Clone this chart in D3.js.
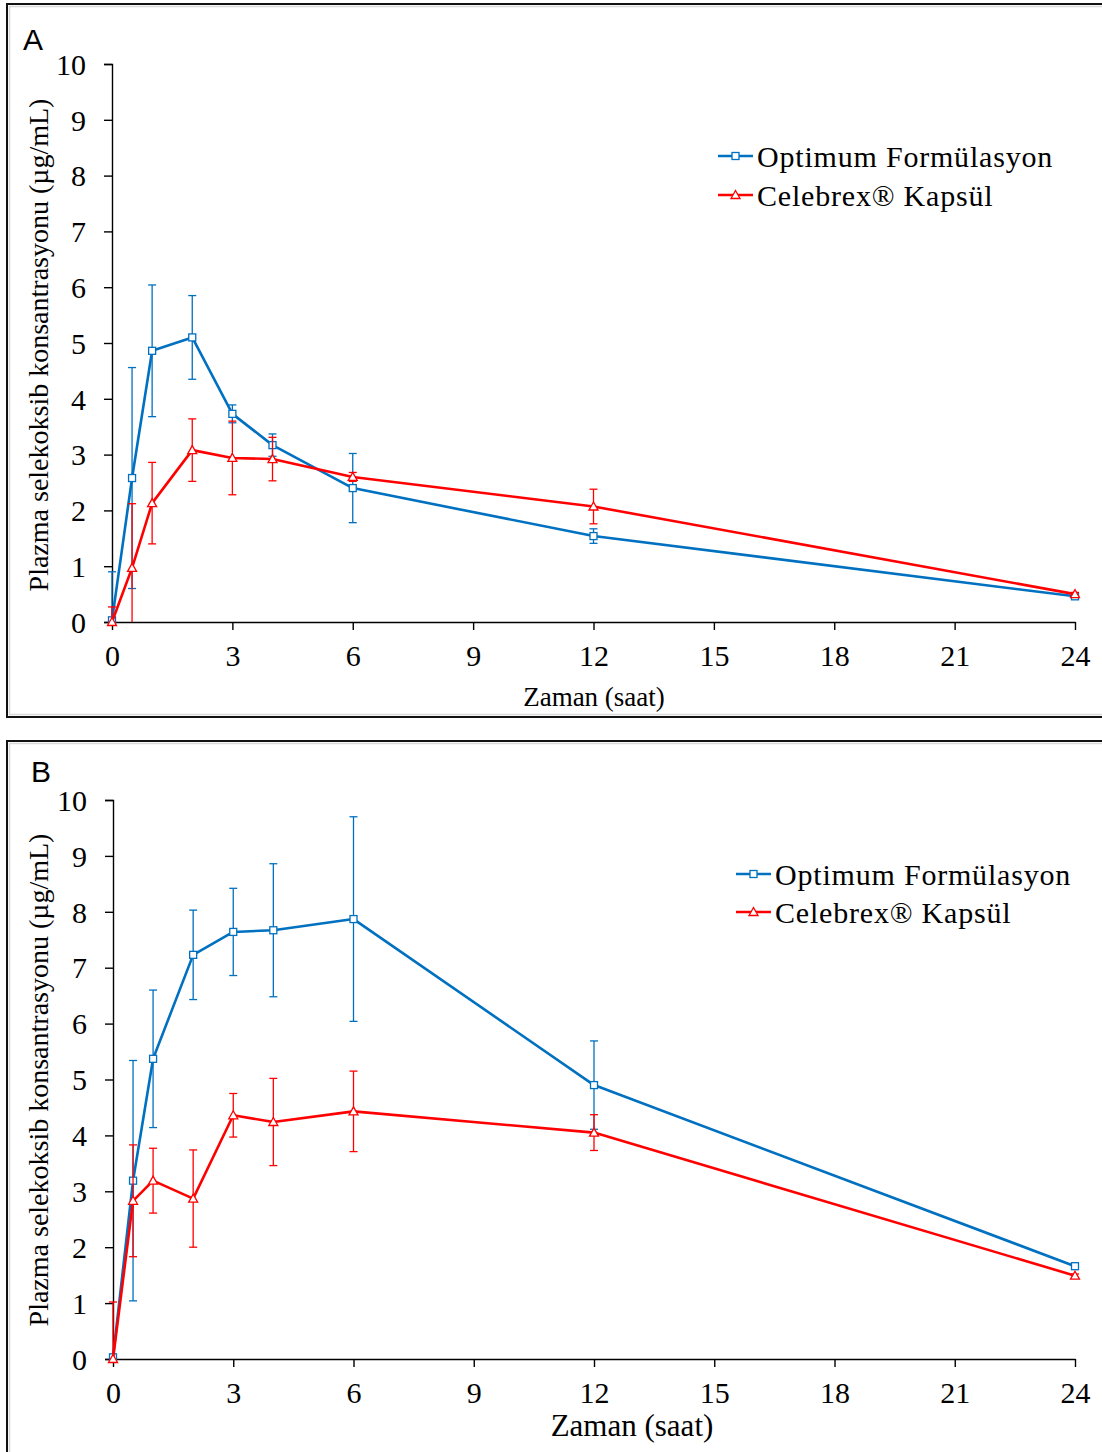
<!DOCTYPE html>
<html>
<head>
<meta charset="utf-8">
<script src="https://cdn.jsdelivr.net/npm/d3@7"></script>
<style>
  html, body { margin: 0; padding: 0; background: #fff; }
  svg { display: block; }
</style>
</head>
<body>
<svg id="chart" width="1102" height="1452"></svg>
<script>
// Sampling times (saat)
const times = [0, 0.5, 1, 2, 3, 4, 6, 12, 24];

// Panel A — mean and SD (µg/mL)
const optimumA = [0.03, 2.58, 4.86, 5.10, 3.73, 3.17, 2.40, 1.54, 0.46];
const optimumA_sd = [0.87, 1.98, 1.18, 0.75, 0.16, 0.20, 0.62, 0.13, 0.03];
const celebrexA = [0.00, 0.97, 2.13, 3.08, 2.94, 2.92, 2.60, 2.07, 0.50];
const celebrexA_sd = [0.27, 1.15, 0.73, 0.56, 0.66, 0.39, 0.08, 0.31, 0.03];

// Panel B — mean and SD (µg/mL)
const optimumB = [0.03, 3.19, 5.37, 7.23, 7.64, 7.67, 7.87, 4.90, 1.66];
const optimumB_sd = [0.05, 2.15, 1.23, 0.80, 0.78, 1.19, 1.83, 0.79, 0.05];
const celebrexB = [0.00, 2.83, 3.19, 2.87, 4.36, 4.24, 4.43, 4.05, 1.49];
const celebrexB_sd = [1.02, 1.00, 0.58, 0.87, 0.39, 0.78, 0.72, 0.32, 0.03];

// Axis ticks and labels
const xTicks = [0, 3, 6, 9, 12, 15, 18, 21, 24];
const yTicks = [0, 1, 2, 3, 4, 5, 6, 7, 8, 9, 10];
const seriesNames = ["Optimum Formülasyon", "Celebrex® Kapsül"];
const yTitle = "Plazma selekoksib konsantrasyonu (µg/mL)";
const xTitle = "Zaman (saat)";
const panelLabels = ["A", "B"];

const BLUE = "#0070C0";
const RED = "#FF0000";
const SERIF = "'Liberation Serif', 'Times New Roman', serif";
const SANS = "'Liberation Sans', Arial, sans-serif";

const svg = d3.select("#chart");

function drawPanel(p) {
  const g = svg.append("g");

  // outer frame (double line: dark border with light inner edge)
  g.append("rect")
    .attr("x", p.frame[0]).attr("y", p.frame[1])
    .attr("width", p.frame[2]).attr("height", p.frame[3])
    .attr("fill", "none").attr("stroke", "#111").attr("stroke-width", 2);
  g.append("rect")
    .attr("x", p.frame[0] + 2.5).attr("y", p.frame[1] + 2.5)
    .attr("width", p.frame[2] - 5).attr("height", p.frame[3] - 5)
    .attr("fill", "none").attr("stroke", "#d9d9d9").attr("stroke-width", 1.5);

  const x = d3.scaleLinear().domain([0, 24]).range([p.x0, p.x1]);
  const y = d3.scaleLinear().domain([0, 10]).range([p.y0, p.y1]);

  // y axis
  const yAxis = g.append("g")
    .attr("transform", `translate(${p.x0},0)`)
    .call(d3.axisLeft(y).tickValues(yTicks).tickSize(8).tickPadding(18).tickFormat(d3.format("d")));
  yAxis.select(".domain").attr("stroke", "#000").attr("stroke-width", 1.4);
  yAxis.selectAll(".tick line").attr("stroke", "#000").attr("stroke-width", 1.4);
  yAxis.selectAll(".tick text")
    .attr("font-family", SERIF).attr("font-size", 30).attr("fill", "#000")
    .attr("dy", "0.34em");

  // x axis
  const xAxis = g.append("g")
    .attr("transform", `translate(0,${p.y0})`)
    .call(d3.axisBottom(x).tickValues(xTicks).tickSize(8).tickSizeOuter(0).tickPadding(15).tickFormat(d3.format("d")));
  xAxis.select(".domain").attr("stroke", "#000").attr("stroke-width", 1.4);
  xAxis.selectAll(".tick line").attr("stroke", "#000").attr("stroke-width", 1.4);
  xAxis.selectAll(".tick text")
    .attr("font-family", SERIF).attr("font-size", 30).attr("fill", "#000")
    .attr("dy", "0.71em");

  // axis titles
  g.append("text")
    .attr("transform", `translate(${p.yTitle[0]},${p.yTitle[1]}) rotate(-90)`)
    .attr("text-anchor", "middle")
    .attr("font-family", SERIF).attr("font-size", 28).attr("fill", "#000")
    .text(yTitle);
  g.append("text")
    .attr("x", p.xTitle[0]).attr("y", p.xTitle[1])
    .attr("text-anchor", "middle")
    .attr("font-family", SERIF).attr("font-size", p.xTitleSize).attr("fill", "#000")
    .text(xTitle);

  // panel letter
  g.append("text")
    .attr("x", p.label[0]).attr("y", p.label[1])
    .attr("font-family", SANS).attr("font-size", 30).attr("fill", "#000")
    .text(p.labelText);

  const series = [
    { name: seriesNames[0], mean: p.blue, sd: p.blueSd, color: BLUE, shape: "square" },
    { name: seriesNames[1], mean: p.red, sd: p.redSd, color: RED, shape: "triangle" }
  ];

  const line = d3.line().x(d => x(d.t)).y(d => y(d.v));

  function marker(sel, shape, color) {
    if (shape === "square") {
      sel.append("rect")
        .attr("x", -3.5).attr("y", -3.5).attr("width", 7).attr("height", 7)
        .attr("fill", "#fff").attr("stroke", color).attr("stroke-width", 1.3);
    } else {
      sel.append("path")
        .attr("d", "M0,-4.5L4.5,3.5L-4.5,3.5Z")
        .attr("fill", "#fff").attr("stroke", color).attr("stroke-width", 1.3);
    }
  }

  series.forEach(s => {
    const pts = times.map((t, i) => ({ t, v: s.mean[i], sd: s.sd[i] }));
    const sg = g.append("g");

    // error bars (clipped to the plotted range 0–10)
    pts.forEach(d => {
      const hi = Math.min(10, d.v + d.sd);
      const lo = Math.max(0, d.v - d.sd);
      const cx = x(d.t);
      sg.append("line")
        .attr("x1", cx).attr("x2", cx).attr("y1", y(lo)).attr("y2", y(hi))
        .attr("stroke", s.color).attr("stroke-width", 1.3);
      sg.append("line")
        .attr("x1", cx - 4).attr("x2", cx + 4).attr("y1", y(hi)).attr("y2", y(hi))
        .attr("stroke", s.color).attr("stroke-width", 1.3);
      if (d.v - d.sd > 0) {
        sg.append("line")
          .attr("x1", cx - 4).attr("x2", cx + 4).attr("y1", y(lo)).attr("y2", y(lo))
          .attr("stroke", s.color).attr("stroke-width", 1.3);
      }
    });

    // mean line
    sg.append("path")
      .datum(pts)
      .attr("d", line)
      .attr("fill", "none").attr("stroke", s.color).attr("stroke-width", 2.6)
      .attr("stroke-linejoin", "round");

    // markers
    sg.selectAll("g.m").data(pts).enter().append("g")
      .attr("class", "m")
      .attr("transform", d => `translate(${x(d.t)},${y(d.v)})`)
      .each(function () { marker(d3.select(this), s.shape, s.color); });
  });

  // legend
  series.forEach((s, i) => {
    const ly = p.legend[1] + i * p.legendGap;
    const lg = g.append("g");
    lg.append("line")
      .attr("x1", p.legend[0]).attr("x2", p.legend[0] + 35)
      .attr("y1", ly).attr("y2", ly)
      .attr("stroke", s.color).attr("stroke-width", 2.6);
    const mg = lg.append("g").attr("transform", `translate(${p.legend[0] + 17.5},${ly})`);
    marker(mg, s.shape, s.color);
    lg.append("text")
      .attr("x", p.legend[0] + 39).attr("y", ly + 11)
      .attr("font-family", SERIF).attr("font-size", 30).attr("fill", "#000")
      .attr("letter-spacing", 0.8)
      .text(s.name);
  });
}

drawPanel({
  frame: [7, 4, 1110, 713],
  x0: 112, x1: 1075, y0: 622, y1: 64,
  yTitle: [48, 345], xTitle: [594, 706], xTitleSize: 27,
  label: [23, 50], labelText: panelLabels[0],
  legend: [718, 156], legendGap: 39,
  blue: optimumA, blueSd: optimumA_sd, red: celebrexA, redSd: celebrexA_sd
});

drawPanel({
  frame: [7, 741, 1110, 720],
  x0: 113, x1: 1075, y0: 1359, y1: 800,
  yTitle: [48, 1080], xTitle: [632, 1436], xTitleSize: 31,
  label: [31, 782], labelText: panelLabels[1],
  legend: [736, 874], legendGap: 38,
  blue: optimumB, blueSd: optimumB_sd, red: celebrexB, redSd: celebrexB_sd
});
</script>
</body>
</html>
